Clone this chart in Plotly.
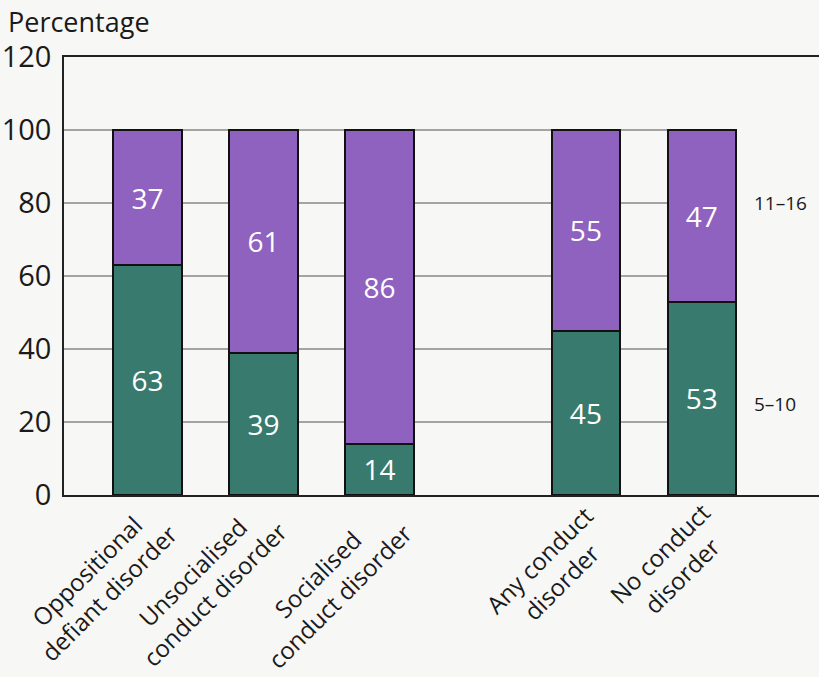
import plotly.graph_objects as go

categories = ["Oppositional<br>defiant disorder", "Unsocialised<br>conduct disorder",
              "Socialised<br>conduct disorder", "Any conduct<br>disorder", "No conduct<br>disorder"]
age_5_10 = [63, 39, 14, 45, 53]
age_11_16 = [37, 61, 86, 55, 47]
series_names = ["5–10", "11–16"]
y_ticks = [0, 20, 40, 60, 80, 100, 120]

# layout positions (gap between the third and fourth bar)
xpos = [0, 1, 2, 3.78, 4.78]
bar_w = 0.59
# pixel offsets of each rotated category label's centre from its bar foot
label_dx = [-50, -60, -51, -36, -31]
label_dy = [-87, -88, -90, -76, -69]

FONT = "Open Sans"
GREEN = "#387A6D"
PURPLE = "#9062C0"
BG = "#F7F7F5"
TXT = "#1a1a1a"

fig = go.Figure()
for name, vals, col in [(series_names[0], age_5_10, GREEN), (series_names[1], age_11_16, PURPLE)]:
    fig.add_trace(go.Bar(
        x=xpos, y=vals, name=name, width=bar_w,
        marker=dict(color=col, line=dict(color="#111111", width=2)),
        text=[str(v) for v in vals], textposition="inside", insidetextanchor="middle",
        textfont=dict(family=FONT, size=28, color="white"),
        hoverinfo="skip",
    ))

# gridlines stop at the right edge of the last bar
for t in y_ticks[1:-1]:
    fig.add_shape(type="line", xref="x", yref="y", x0=-0.72, x1=xpos[-1] + bar_w / 2, y0=t, y1=t,
                  layer="below", line=dict(color="#505050", width=1))

for i, lab in enumerate(categories):
    fig.add_annotation(x=xpos[i], y=0, xref="x", yref="y", text=lab, showarrow=False,
                       textangle=-45, xanchor="center", yanchor="middle",
                       xshift=label_dx[i], yshift=label_dy[i],
                       font=dict(family=FONT, size=24, color=TXT), align="center")

fig.add_annotation(x=(752 - 64) / 755, y=80, xref="paper", yref="y", text=series_names[1], showarrow=False,
                   xanchor="left", yanchor="middle", font=dict(family=FONT, size=19, color=TXT))
fig.add_annotation(x=(752 - 64) / 755, y=25, xref="paper", yref="y", text=series_names[0], showarrow=False,
                   xanchor="left", yanchor="middle", font=dict(family=FONT, size=19, color=TXT))
fig.add_annotation(x=(6 - 64) / 755, y=1 + (57 - 22) / 438, xref="paper", yref="paper",
                   text="Percentage", showarrow=False, xanchor="left", yanchor="middle",
                   font=dict(family=FONT, size=27, color=TXT))

fig.update_layout(
    width=819, height=677, barmode="stack", showlegend=False,
    margin=dict(l=64, r=0, t=57, b=182),
    paper_bgcolor=BG, plot_bgcolor=BG,
    xaxis=dict(range=[-0.72, 5.79], showticklabels=False, showgrid=False, zeroline=False,
               showline=True, mirror=True, linecolor="#222222", linewidth=1.5, ticks=""),
    yaxis=dict(range=[0, 120], tickvals=y_ticks, showgrid=False, zeroline=False,
               showline=True, linecolor="#222222", linewidth=1.5, ticks="", ticklabelstandoff=5,
               tickfont=dict(family=FONT, size=29, color=TXT)),
)

post = ("document.body.style.margin='0';document.body.style.overflow='hidden';"
        "var gd=document.getElementById('{plot_id}');gd.style.width='819px';gd.style.height='677px';"
        "Plotly.relayout(gd,{width:819,height:677});")
fig.write_html("out.html", post_script=post, config={"displayModeBar": False})
